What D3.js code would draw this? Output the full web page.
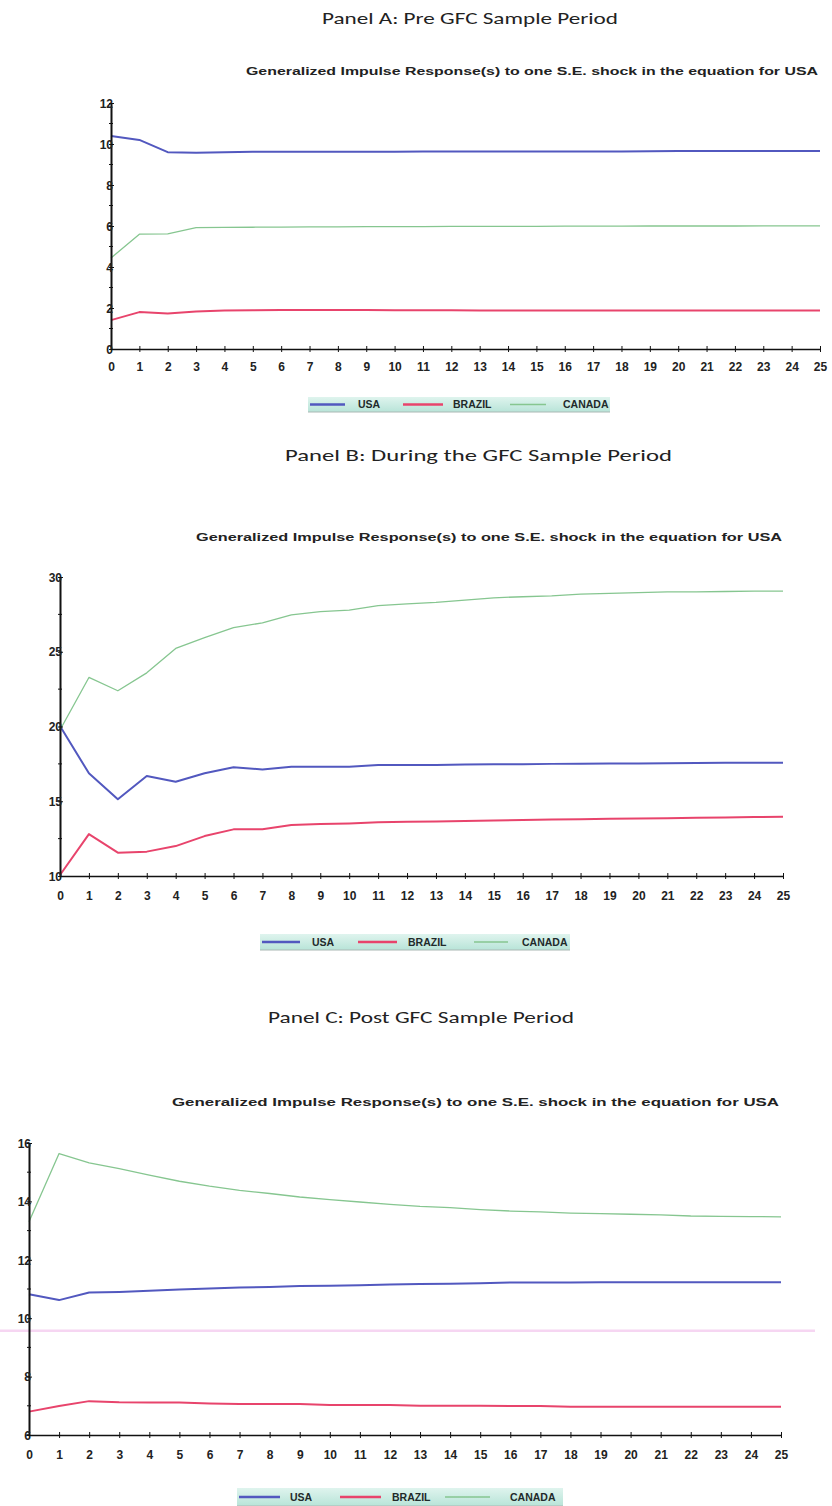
<!DOCTYPE html>
<html>
<head>
<meta charset="utf-8">
<script src="https://cdn.jsdelivr.net/npm/d3@7/dist/d3.min.js"></script>
<style>
  html, body { margin: 0; padding: 0; background: #ffffff; }
  svg { display: block; }
</style>
</head>
<body>
<svg id="chart" width="832" height="1506"></svg>
<script>
// ---------------- DATA ----------------
const periods = [0,1,2,3,4,5,6,7,8,9,10,11,12,13,14,15,16,17,18,19,20,21,22,23,24,25];
const seriesNames = ["USA", "BRAZIL", "CANADA"];
const panelTitles = [
  "Panel A: Pre GFC Sample Period",
  "Panel B: During the GFC Sample Period",
  "Panel C: Post GFC Sample Period"
];
const chartSubtitle = "Generalized Impulse Response(s) to one S.E. shock in the equation for USA";

// Panel A (pre GFC)
const usaA    = [10.39,10.2,9.6,9.57,9.6,9.62,9.62,9.62,9.62,9.62,9.62,9.63,9.63,9.63,9.63,9.63,9.63,9.64,9.64,9.65,9.66,9.66,9.66,9.66,9.66,9.66];
const brazilA = [1.41,1.8,1.73,1.83,1.88,1.89,1.9,1.9,1.9,1.9,1.89,1.89,1.89,1.88,1.88,1.88,1.88,1.88,1.88,1.88,1.88,1.88,1.88,1.88,1.88,1.88];
const canadaA = [4.44,5.6,5.62,5.92,5.93,5.94,5.95,5.96,5.96,5.97,5.97,5.97,5.98,5.98,5.98,5.98,5.99,5.99,5.99,6.0,6.0,6.0,6.0,6.01,6.01,6.01];
const yTicksA = [0,2,4,6,8,10,12];
const yMinorA = [1,3,5,7,9,11];

// Panel B (during GFC)
const usaB    = [20.03,16.87,15.13,16.69,16.3,16.87,17.27,17.13,17.31,17.31,17.31,17.42,17.42,17.43,17.45,17.47,17.48,17.5,17.51,17.52,17.53,17.54,17.56,17.57,17.58,17.58];
const brazilB = [10.07,12.8,11.56,11.63,12.0,12.67,13.12,13.12,13.41,13.48,13.52,13.59,13.63,13.65,13.68,13.72,13.75,13.78,13.8,13.83,13.85,13.87,13.9,13.92,13.94,13.96];
const canadaB = [19.77,23.28,22.39,23.59,25.22,25.95,26.62,26.93,27.46,27.68,27.79,28.08,28.2,28.3,28.46,28.61,28.68,28.74,28.86,28.9,28.95,29.0,29.0,29.03,29.06,29.06];
const yTicksB = [10,15,20,25,30];
const yMinorB = [12.5,17.5,22.5,27.5];

// Panel C (post GFC)
const usaC    = [10.82,10.62,10.88,10.9,10.94,10.98,11.02,11.05,11.07,11.1,11.11,11.13,11.15,11.17,11.18,11.2,11.22,11.22,11.22,11.23,11.23,11.23,11.23,11.23,11.23,11.23];
const brazilC = [6.8,6.99,7.16,7.12,7.11,7.11,7.08,7.06,7.06,7.06,7.03,7.03,7.03,7.0,7.0,7.0,6.99,6.99,6.97,6.97,6.97,6.97,6.97,6.97,6.97,6.97];
const canadaC = [13.3,15.64,15.32,15.12,14.9,14.69,14.52,14.38,14.27,14.15,14.06,13.98,13.9,13.83,13.79,13.72,13.67,13.64,13.6,13.58,13.56,13.54,13.5,13.49,13.48,13.47];
const yTicksC = [6,8,10,12,14,16];
const yMinorC = [7,9,11,13,15];
const scanArtifactC = 9.57; // faint pink scan line in panel C

// ---------------- STYLE / LAYOUT ----------------
const colors = { USA: "#5258bf", BRAZIL: "#e8446c", CANADA: "#86c690" };
const widths = { USA: 2, BRAZIL: 2, CANADA: 1.3 };

const layouts = [
  { x0: 111, x1: 820, yTop: 103, yBot: 349, titleY: 18, titleX0: 322, titleX1: 618,
    subY: 71, subX0: 246, subX1: 818, tickY: 367,
    leg: { x0: 308, x1: 610, y0: 397, y1: 412, items: [[310,345,358],[403,443,453],[510,546,563]] } },
  { x0: 60, x1: 783, yTop: 577, yBot: 876, titleY: 455, titleX0: 285, titleX1: 672,
    subY: 537, subX0: 196, subX1: 782, tickY: 896,
    leg: { x0: 260, x1: 570, y0: 934, y1: 950, items: [[262,300,312],[358,397,408],[474,508,522]] } },
  { x0: 29, x1: 781, yTop: 1143, yBot: 1435, titleY: 1017, titleX0: 268, titleX1: 574,
    subY: 1102, subX0: 172, subX1: 779, tickY: 1455,
    leg: { x0: 237, x1: 563, y0: 1488, y1: 1506, items: [[239,280,290],[340,381,392],[445,490,510]] } }
];

const panels = [
  { data: [usaA, brazilA, canadaA], domain: [0, 12], ticks: yTicksA, minor: yMinorA },
  { data: [usaB, brazilB, canadaB], domain: [10, 30], ticks: yTicksB, minor: yMinorB },
  { data: [usaC, brazilC, canadaC], domain: [6, 16], ticks: yTicksC, minor: yMinorC }
];

const svg = d3.select("#chart");
const defs = svg.append("defs");
const grad = defs.append("linearGradient").attr("id", "legGrad")
  .attr("x1", 0).attr("y1", 0).attr("x2", 0).attr("y2", 1);
grad.append("stop").attr("offset", "0%").attr("stop-color", "#dff4ee");
grad.append("stop").attr("offset", "100%").attr("stop-color", "#b8e4d8");

const axisFont = "'Liberation Sans', Arial, sans-serif";

panels.forEach((p, i) => {
  const L = layouts[i];
  const g = svg.append("g");
  const x = d3.scaleLinear().domain([0, 25]).range([L.x0, L.x1]);
  const y = d3.scaleLinear().domain(p.domain).range([L.yBot, L.yTop]);

  // Panel title
  g.append("text")
    .attr("x", L.titleX0).attr("y", L.titleY + 6)
    .attr("textLength", L.titleX1 - L.titleX0).attr("lengthAdjust", "spacingAndGlyphs")
    .style("font-family", "Carlito, 'Noto Sans', 'Open Sans', sans-serif")
    .style("font-size", "17px").style("fill", "#222")
    .text(panelTitles[i]);

  // Chart subtitle
  g.append("text")
    .attr("x", L.subX0).attr("y", L.subY + 4)
    .attr("textLength", L.subX1 - L.subX0).attr("lengthAdjust", "spacingAndGlyphs")
    .style("font-family", axisFont).style("font-weight", "bold")
    .style("font-size", "11px").style("fill", "#222")
    .text(chartSubtitle);

  // scan artifact line in panel C
  if (i === 2) {
    g.append("line")
      .attr("x1", 0).attr("x2", 815)
      .attr("y1", y(scanArtifactC)).attr("y2", y(scanArtifactC))
      .attr("stroke", "#f6d6f2").attr("stroke-width", 2.5);
  }

  // Lines
  p.data.forEach((vals, k) => {
    const name = seriesNames[k];
    const line = d3.line().x((d, j) => x(periods[j])).y(d => y(d));
    g.append("path").datum(vals)
      .attr("d", line)
      .attr("fill", "none")
      .attr("stroke", colors[name])
      .attr("stroke-width", widths[name])
      .attr("stroke-linejoin", "round");
  });

  // X axis
  const xAxis = d3.axisBottom(x).tickValues(periods).tickSize(0).tickFormat(d3.format("d"));
  const gx = g.append("g").attr("transform", `translate(0,${L.yBot})`).call(xAxis);
  gx.select(".domain").attr("stroke", "#111").attr("stroke-width", 1.6);
  gx.selectAll(".tick text")
    .attr("y", L.tickY - L.yBot).attr("dy", "0.35em")
    .style("font-family", axisFont).style("font-weight", "bold")
    .style("font-size", "12px").style("fill", "#222");
  gx.selectAll(".tick").append("line")
    .attr("y1", -3).attr("y2", 3).attr("stroke", "#111").attr("stroke-width", 1);

  // Y axis
  const yAxis = d3.axisLeft(y).tickValues(p.ticks).tickSize(0).tickFormat(d3.format("d"));
  const gy = g.append("g").attr("transform", `translate(${L.x0},0)`).call(yAxis);
  gy.select(".domain").attr("stroke", "#111").attr("stroke-width", 2);
  gy.selectAll(".tick text")
    .attr("x", 2).attr("dy", "0.35em")
    .style("text-anchor", "end")
    .style("font-family", axisFont).style("font-weight", "bold")
    .style("font-size", "12px").style("fill", "#222");
  gy.selectAll(".tick").append("line")
    .attr("x1", -2).attr("x2", 3).attr("stroke", "#111").attr("stroke-width", 1);
  gy.selectAll(".minor").data(p.minor).enter().append("line")
    .attr("class", "minor")
    .attr("x1", -2).attr("x2", 2)
    .attr("y1", d => y(d)).attr("y2", d => y(d))
    .attr("stroke", "#111").attr("stroke-width", 1);

  // Legend
  const lg = L.leg;
  const legG = g.append("g");
  legG.append("rect")
    .attr("x", lg.x0).attr("y", lg.y0)
    .attr("width", lg.x1 - lg.x0).attr("height", lg.y1 - lg.y0)
    .attr("fill", "url(#legGrad)");
  legG.append("line")
    .attr("x1", lg.x0).attr("x2", lg.x1).attr("y1", lg.y1).attr("y2", lg.y1)
    .attr("stroke", "#aab8b4").attr("stroke-width", 1);
  const cy = (lg.y0 + lg.y1) / 2;
  seriesNames.forEach((name, k) => {
    const it = lg.items[k];
    legG.append("line")
      .attr("x1", it[0]).attr("x2", it[1]).attr("y1", cy).attr("y2", cy)
      .attr("stroke", colors[name]).attr("stroke-width", name === "CANADA" ? 1.3 : 2.5);
    legG.append("text")
      .attr("x", it[2]).attr("y", cy).attr("dy", "0.35em")
      .style("font-family", axisFont).style("font-weight", "bold")
      .style("font-size", "10.5px").style("fill", "#1f2a2a")
      .text(name);
  });
});
</script>
</body>
</html>
